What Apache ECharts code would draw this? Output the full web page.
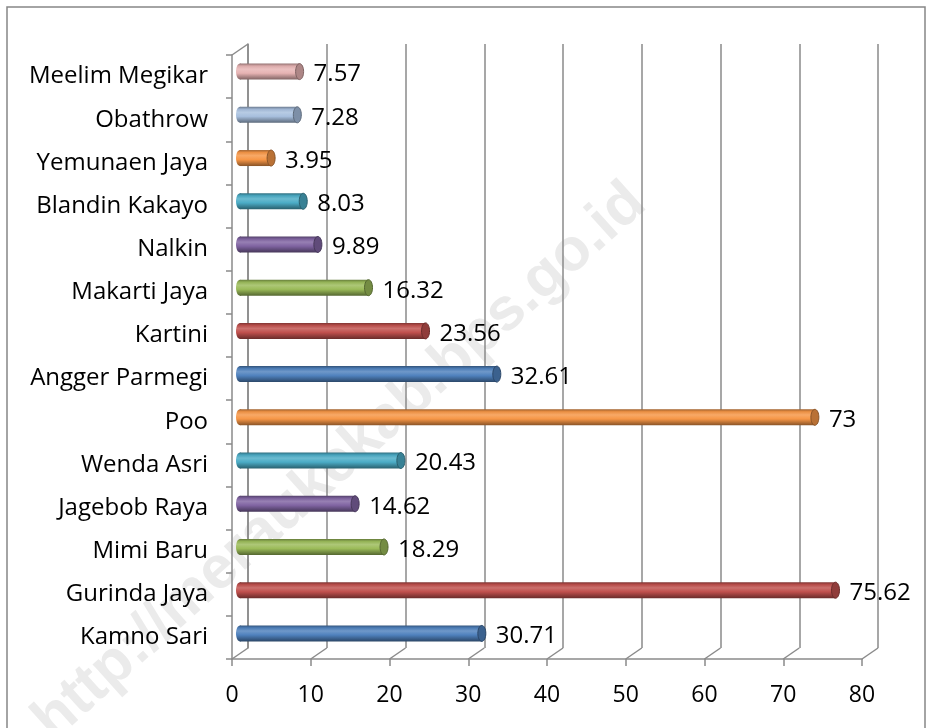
<!DOCTYPE html>
<html>
<head>
<meta charset="utf-8">
<script src="https://cdn.jsdelivr.net/npm/echarts@6/dist/echarts.min.js"></script>
<style>
html, body { margin: 0; padding: 0; background: #fff; }
#chart { width: 928px; height: 728px; }
</style>
</head>
<body>
<div id="chart"></div>
<script>
// data, bottom to top as in the picture
var categories = ['Kamno Sari', 'Gurinda Jaya', 'Mimi Baru', 'Jagebob Raya', 'Wenda Asri', 'Poo',
    'Angger Parmegi', 'Kartini', 'Makarti Jaya', 'Nalkin', 'Blandin Kakayo', 'Yemunaen Jaya',
    'Obathrow', 'Meelim Megikar'];
var values = [30.71, 75.62, 18.29, 14.62, 20.43, 73, 32.61, 23.56, 16.32, 9.89, 8.03, 3.95, 7.28, 7.57];
var xTicks = [0, 10, 20, 30, 40, 50, 60, 70, 80];

var barColors = ['#4F81BD', '#C0504D', '#9BBB59', '#8064A2', '#4BACC6', '#F79646',
    '#4F81BD', '#C0504D', '#9BBB59', '#8064A2', '#4BACC6', '#F79646', '#A7BFDE', '#E6B3B3'];
var gridColor = '#8a8a8a';
var labelFont = '"Open Sans", sans-serif';
var depthX = 16, depthY = -11;

function mix(hex, other, t) {
    var a = parseInt(hex.slice(1), 16), b = parseInt(other.slice(1), 16);
    var r = Math.round(((a >> 16) & 255) * (1 - t) + ((b >> 16) & 255) * t);
    var g = Math.round(((a >> 8) & 255) * (1 - t) + ((b >> 8) & 255) * t);
    var bl = Math.round((a & 255) * (1 - t) + (b & 255) * t);
    return 'rgb(' + r + ',' + g + ',' + bl + ')';
}

function renderBar(params, api) {
    var v = api.value(0);
    var c = api.value(1);
    var p0 = api.coord([0, c]);
    var p1 = api.coord([v, c]);
    var h = 16, rx = 4;
    var base = barColors[params.dataIndex];
    var grad = new echarts.graphic.LinearGradient(0, 0, 0, 1, [
        { offset: 0, color: mix(base, '#000000', 0.35) },
        { offset: 0.15, color: mix(base, '#000000', 0.05) },
        { offset: 0.35, color: mix(base, '#ffffff', 0.18) },
        { offset: 0.6, color: base },
        { offset: 1, color: mix(base, '#000000', 0.45) }
    ]);
    return {
        type: 'group',
        children: [
            { type: 'ellipse', shape: { cx: p0[0], cy: p0[1], rx: rx, ry: h / 2 }, style: { fill: grad } },
            { type: 'rect', shape: { x: p0[0], y: p0[1] - h / 2, width: p1[0] - p0[0], height: h }, style: { fill: grad } },
            { type: 'ellipse', shape: { cx: p1[0], cy: p1[1], rx: rx, ry: h / 2 },
              style: { fill: mix(base, '#000000', 0.25), stroke: mix(base, '#000000', 0.45), lineWidth: 1 } },
            { type: 'text', style: { text: String(v), x: p1[0] + rx + 10, y: p1[1] + 3, verticalAlign: 'middle',
              font: '24px ' + labelFont, fill: '#000' } }
        ]
    };
}

// slanted lines joining the front axis to the back wall
function renderDepth(params, api) {
    var cs = params.coordSys;
    var x = api.coord([api.value(0), 0])[0];
    var bottom = cs.y + cs.height;
    var children = [{ type: 'line', shape: { x1: x, y1: bottom, x2: x + depthX, y2: bottom + depthY },
        style: { stroke: gridColor, lineWidth: 1.5 } }];
    if (params.dataIndex === 0) {
        children.push({ type: 'line', shape: { x1: cs.x, y1: cs.y, x2: cs.x + depthX, y2: cs.y + depthY },
            style: { stroke: gridColor, lineWidth: 1.5 } });
    }
    return { type: 'group', children: children };
}

var chart = echarts.init(document.getElementById('chart'));
chart.setOption({
    animation: false,
    grid: [
        { left: 248, right: 50, top: 44, bottom: 80 },   // back wall
        { left: 232, right: 66, top: 55, bottom: 69 },   // front axes
        { left: 240, right: 58, top: 50, bottom: 73 }    // bars
    ],
    xAxis: [
        { gridIndex: 0, type: 'value', min: 0, max: 80, interval: 10,
          axisLine: { show: false }, axisTick: { show: false }, axisLabel: { show: false },
          splitLine: { show: true, lineStyle: { color: gridColor, width: 1.5 } } },
        { gridIndex: 1, type: 'value', min: 0, max: 80, interval: 10,
          axisLine: { show: true, lineStyle: { color: gridColor, width: 1.5 } },
          axisTick: { show: true, length: 7, lineStyle: { color: gridColor, width: 1.5 } },
          axisLabel: { color: '#000', fontSize: 23, fontFamily: labelFont, margin: 25 },
          splitLine: { show: false } },
        { gridIndex: 2, type: 'value', min: 0, max: 80, show: false }
    ],
    yAxis: [
        { gridIndex: 0, type: 'category', data: categories,
          axisLine: { show: true, lineStyle: { color: gridColor, width: 1.5 } },
          axisTick: { show: false }, axisLabel: { show: false } },
        { gridIndex: 1, type: 'category', data: categories,
          axisLine: { show: true, lineStyle: { color: gridColor, width: 1.5 } },
          axisTick: { show: true, length: 6, lineStyle: { color: gridColor, width: 1.5 } },
          axisLabel: { color: '#000', fontSize: 24, fontFamily: labelFont, margin: 24 } },
        { gridIndex: 2, type: 'category', data: categories, show: false }
    ],
    series: [
        { type: 'custom', xAxisIndex: 1, yAxisIndex: 1, renderItem: renderDepth,
          data: xTicks.map(function (t) { return [t, 0]; }), encode: { x: 0, y: 1 }, silent: true },
        { type: 'custom', xAxisIndex: 2, yAxisIndex: 2, renderItem: renderBar,
          data: values.map(function (v, i) { return [v, i]; }), encode: { x: 0, y: 1 } }
    ],
    graphic: [
        { type: 'rect', shape: { x: 7, y: 7, width: 918, height: 740 }, z: -10,
          style: { fill: 'none', stroke: '#868686', lineWidth: 1.5 } },
        { type: 'text', x: 340, y: 462, rotation: 42 * Math.PI / 180, z: -5, silent: true,
          style: { text: 'http://meraukekab.bps.go.id', font: 'bold 60px "Liberation Sans", Arial, sans-serif',
                   fill: '#ebebeb', align: 'center', verticalAlign: 'middle' } }
    ]
});
</script>
</body>
</html>
